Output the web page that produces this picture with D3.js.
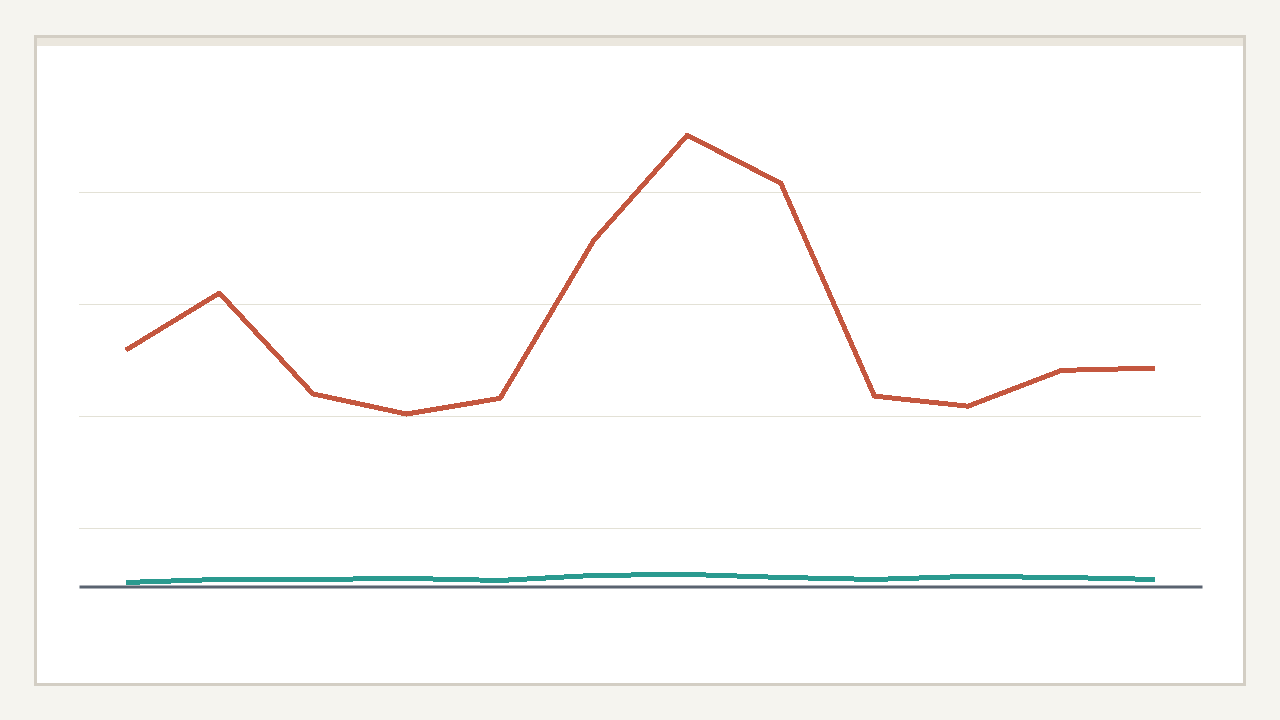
<!DOCTYPE html>
<html>
<head>
<meta charset="utf-8">
<script src="https://cdn.jsdelivr.net/npm/d3@7"></script>
<style>
  html, body { margin: 0; padding: 0; background: #f5f4ef; }
  svg { display: block; }
</style>
</head>
<body>
<svg id="chart" width="1280" height="720"></svg>
<script>
// ---- data ----
const categories = ["Jan", "Feb", "Mar", "Apr", "May", "Jun", "Jul", "Aug", "Sep", "Oct", "Nov", "Dec"];
const seriesA = [259, 310, 220, 202, 216, 357, 451, 408, 218, 209, 241, 243];
const seriesB = [51.6, 54.3, 54.3, 55.2, 53.4, 57.9, 58.8, 56.1, 54.3, 57.0, 56.1, 54.3];
const gridValues = [100, 200, 300, 400];
const yDomain = [48, 452];

// ---- layout ----
const svg = d3.select("#chart");
const W = 1280, H = 720;
const plot = { left: 79, right: 1202, top: 134.06, bottom: 586.5 };

// card
svg.append("rect").attr("x", 0).attr("y", 0).attr("width", W).attr("height", H).attr("fill", "#f5f4ef");
svg.append("rect")
  .attr("x", 35.5).attr("y", 36.5).attr("width", 1209).attr("height", 648)
  .attr("fill", "#ffffff").attr("stroke", "#d3cec4").attr("stroke-width", 3);
svg.append("rect")
  .attr("x", 37).attr("y", 38).attr("width", 1206).attr("height", 8)
  .attr("fill", "#ebe7de");

const x = d3.scalePoint().domain(categories).range([plot.left, plot.right]).padding(0.5);
const y = d3.scaleLinear().domain(yDomain).range([plot.bottom, plot.top]);

// gridlines
const grid = svg.append("g").attr("class", "grid")
  .attr("transform", `translate(${plot.left},0)`)
  .call(d3.axisLeft(y).tickValues(gridValues).tickSize(-(plot.right - 1 - plot.left)).tickFormat(""));
grid.select(".domain").remove();
grid.selectAll(".tick line").attr("stroke", "#e3e1d6").attr("stroke-width", 1).attr("shape-rendering", "crispEdges");

// lines
const line = (vals) => d3.line()
  .x((d, i) => x(categories[i]))
  .y(d => y(d))(vals);

svg.append("path")
  .attr("d", line(seriesB))
  .attr("fill", "none")
  .attr("stroke", "#2a9a8f")
  .attr("stroke-width", 5)
  .attr("stroke-linejoin", "round")
  .attr("shape-rendering", "crispEdges");

// baseline axis
const xAxis = svg.append("g")
  .attr("transform", `translate(0,${plot.bottom})`)
  .call(d3.axisBottom(x).tickSize(0).tickFormat(""));
xAxis.select(".domain")
  .attr("stroke", "#5a6370").attr("stroke-width", 3);

svg.append("path")
  .attr("d", line(seriesA))
  .attr("fill", "none")
  .attr("stroke", "#c4573f")
  .attr("stroke-width", 5)
  .attr("stroke-linejoin", "round")
  .attr("shape-rendering", "crispEdges");
</script>
</body>
</html>
